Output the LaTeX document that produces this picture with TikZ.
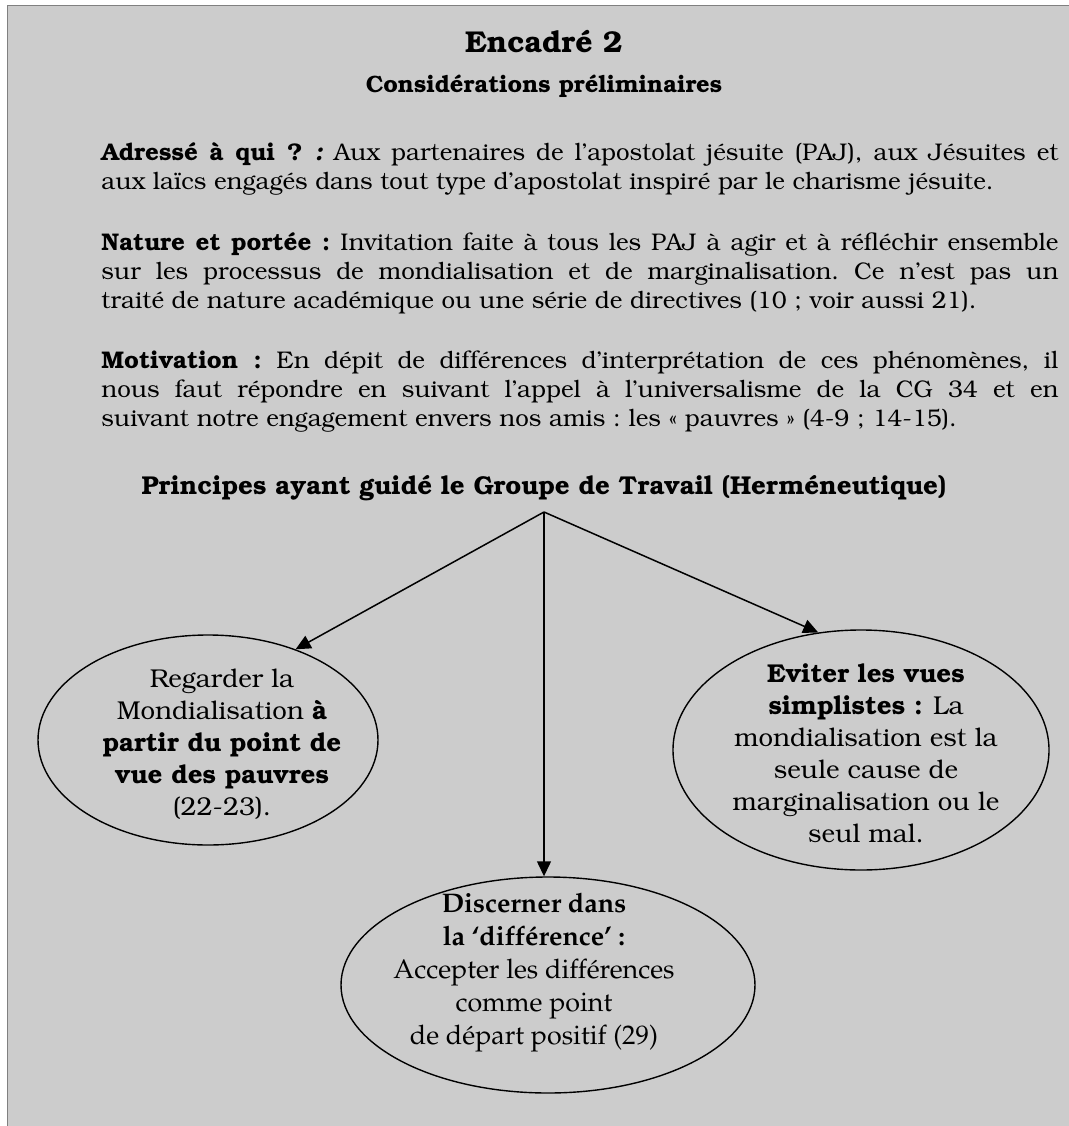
\documentclass[tikz,border=0pt]{standalone}
\usepackage[T1]{fontenc}
\usetikzlibrary{shapes.geometric,arrows.meta}
\renewcommand{\familydefault}{pbk}
\definecolor{boxgray}{HTML}{CCCCCC}
\definecolor{boxline}{HTML}{808080}
\newdimen\pu \pu=0.465pt
\newcommand{\bkfont}{\fontfamily{pbk}\selectfont}
\newcommand{\plfont}{\fontfamily{ppl}\selectfont}
\tikzset{
  para/.style={anchor=base west, text width=957\pu, align=justify, inner sep=0pt,
    font=\bkfont\fontsize{11.2}{13.6}\selectfont\frenchspacing},
  heading/.style={anchor=base, inner sep=0pt},
  bubble/.style={draw, ellipse, line width=0.65pt, inner sep=0pt},
  bubbletext/.style={align=center, inner sep=0pt, font=\bkfont\fontsize{12}{14.9}\selectfont},
  link/.style={-{Triangle[length=7pt,width=6.5pt]}, line width=0.7pt}
}

\begin{document}
\begin{tikzpicture}[x=\pu, y=-\pu]
    \useasboundingbox (0,0) rectangle (1069,1126);
    \clip (0,0) rectangle (1069,1126);
    \draw[boxline, fill=boxgray] (7,5) rectangle (1090,1150);
    % Title
    \node(encadre)[heading, font=\bkfont\bfseries\fontsize{14}{16}\selectfont] at (544,52) {Encadr\'e 2};
    \node(considerations)[heading, font=\bkfont\bfseries\fontsize{11}{13}\selectfont] at (544,92)
      {Consid\'erations pr\'eliminaires};
    % Paragraphs
    \node(adresse)[para] at (101,160) {\textbf{Adress\'e \`a qui ? \textit{:}} Aux partenaires de
      l'apostolat j\'esuite (PAJ), aux J\'esuites et\linebreak aux la\"ics engag\'es dans tout type
      d'apostolat inspir\'e par le charisme j\'esuite.};
    \node(nature)[para] at (101,250) {\textbf{Nature et port\'ee :} Invitation faite \`a tous les PAJ
      \`a agir et \`a r\'efl\'echir ensemble\linebreak sur les processus de mondialisation et de
      marginalisation. Ce n'est pas un\linebreak trait\'e de nature acad\'emique ou une s\'erie de
      directives (10 ; voir aussi 21).};
    \node(motivation)[para] at (101,368) {\textbf{Motivation :} En d\'epit de diff\'erences
      d'interpr\'etation de ces ph\'enom\`enes, il\linebreak nous faut r\'epondre en suivant l'appel
      \`a l'universalisme de la CG 34 et en\linebreak suivant notre engagement envers nos amis : les
      \guillemotleft~pauvres~\guillemotright{} (4-9 ; 14-15).};
    % Principles
    \node(principes)[heading, font=\bkfont\bfseries\fontsize{12}{14}\selectfont]
      at (544,494) {Principes ayant guid\'e le Groupe de Travail (Herm\'eneutique)};
    \coordinate(apex) at (544,512);
    \node(regarder)[bubble, minimum width=340\pu, minimum height=210\pu] at (208,740) {};
    \node(eviter)[bubble, minimum width=376\pu, minimum height=240\pu] at (861,750) {};
    \node(discerner)[bubble, minimum width=414\pu, minimum height=216\pu] at (548,985) {};
    \node(regardertxt)[bubbletext] at (222,744) {Regarder la\\Mondialisation \textbf{\`a}\\
      \textbf{partir du point de}\\\textbf{vue des pauvres}\\(22-23).};
    \node(evitertxt)[bubbletext] at (866,753) {\textbf{Eviter les vues}\\\textbf{simplistes :} La\\
      mondialisation est la\\seule cause de\\marginalisation ou le\\seul mal.};
    \node(discernertxt)[bubbletext, font=\plfont\fontsize{12.5}{15.35}\selectfont] at (534,973)
      {\textbf{Discerner dans}\\\textbf{la `diff\'erence' :}\\Accepter les diff\'erences\\
      comme point\\de d\'epart positif (29)};
    \path (apex) edge[link] (regarder.46);
    \path (apex) edge[link] (eviter.110);
    \path (apex) edge[link] (apex |- discerner.north);
\end{tikzpicture}
\end{document}
